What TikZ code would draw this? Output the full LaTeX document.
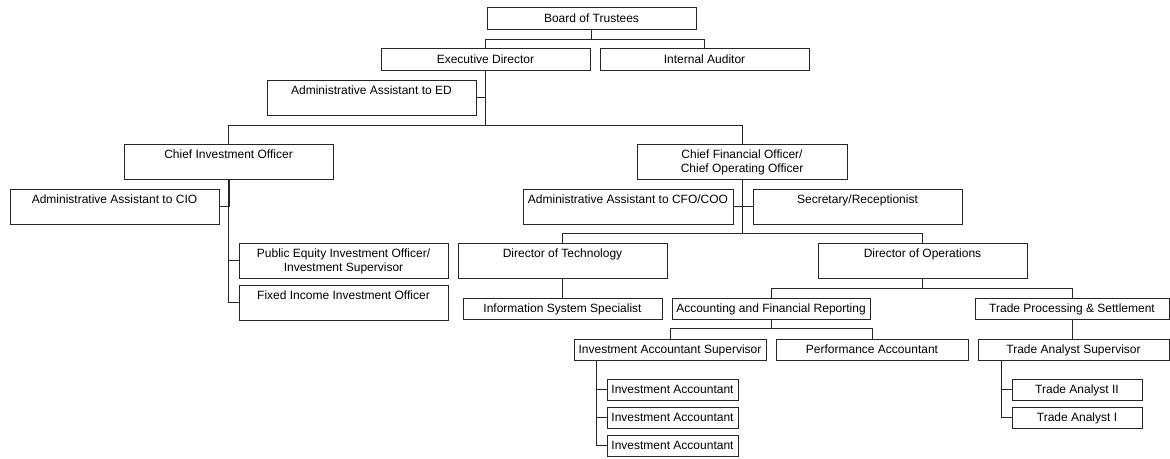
\documentclass[tikz,border=0pt]{standalone}
\usepackage{fontspec}
\setmainfont{Liberation Sans}
\newcommand\mys{\rule[-2.7pt]{0pt}{14pt}}
\tikzset{
  box/.style={draw=black!85, line width=1pt, inner sep=0pt, align=center,
    font=\fontsize{12}{14}\selectfont, text=black},
  sz/.style 2 args={minimum width=#1pt, minimum height=#2pt},
  conn/.style={draw=black!85, line width=1pt},
  thickconn/.style={draw=black!85, line width=2pt},
}
\begin{document}
\begin{tikzpicture}[x=1pt, y=-1pt]
\useasboundingbox (0,0) rectangle (1170,458);
% boxes
\node[box, sz={209}{22}] (bot) at (591.5,18) {\mys Board of Trustees};
\node[box, sz={209}{22}] (ed) at (485.5,59) {\mys Executive Director};
\node[box, sz={209}{22}] (ia) at (704.5,59) {\mys Internal Auditor};
\node[box, sz={209}{35}] (aaed) at (371.5,97.5) {Administrative Assistant to ED\mys\\\mys};
\node[box, sz={209}{35}] (cio) at (228.5,161.5) {Chief Investment Officer\mys\\\mys};
\node[box, sz={209}{35}] (aacio) at (114.5,206.5) {Administrative Assistant to CIO\mys\\\mys};
\node[box, sz={209}{35}] (pe) at (343.5,260.5) {Public Equity Investment Officer/\mys\\Investment Supervisor\mys};
\node[box, sz={209}{35}] (fi) at (343.5,302.5) {Fixed Income Investment Officer\mys\\\mys};
\node[box, sz={210}{35}] (cfo) at (742,161.5) {Chief Financial Officer/\mys\\Chief Operating Officer\mys};
\node[box, sz={210}{35}] (aacfo) at (628,206.5) {Administrative Assistant to CFO/COO\mys\\\mys};
\node[box, sz={209}{35}] (sec) at (857.5,206.5) {Secretary/Receptionist\mys\\\mys};
\node[box, sz={209}{35}] (dt) at (562.5,260.5) {Director of Technology\mys\\\mys};
\node[box, sz={209}{35}] (do) at (922.5,260.5) {Director of Operations\mys\\\mys};
\node[box, sz={199}{21}] (iss) at (562.5,308.5) {\mys Information System Specialist};
\node[box, sz={198}{21}] (afr) at (771,308.5) {\mys Accounting and Financial Reporting};
\node[box, sz={194}{21}] (tps) at (1072,308.5) {\mys Trade Processing \& Settlement};
\node[box, sz={192}{21}] (ias) at (670,349.5) {\mys Investment Accountant Supervisor};
\node[box, sz={192}{21}] (pa) at (872,349.5) {\mys Performance Accountant};
\node[box, sz={191}{21}] (tas) at (1073.5,349.5) {\mys Trade Analyst Supervisor};
\node[box, sz={131}{21}] (iaa) at (672.5,389.5) {\mys Investment Accountant};
\node[box, sz={131}{21}] (iab) at (672.5,417.5) {\mys Investment Accountant};
\node[box, sz={131}{21}] (iac) at (672.5,445.5) {\mys Investment Accountant};
\node[box, sz={130}{21}] (tab) at (1077,389.5) {\mys Trade Analyst II};
\node[box, sz={130}{21}] (taa) at (1077,417.5) {\mys Trade Analyst I};
% connectors
\coordinate (j1) at (591.5,39);
\draw[conn] (bot.south) -- (j1);
\draw[conn] (j1) -| (ed.north);
\draw[conn] (j1) -| (ia.north);
\coordinate (j2) at (485.5,125);
\draw[conn] (ed.south) |- (aaed.east);
\draw[conn] (ed.south) -- (j2);
\draw[conn] (j2) -| (cio.north);
\draw[conn] (j2) -| (cfo.north);
\draw[thickconn] (cio.south) -- (cio.south |- aacio.east);
\draw[conn] (cio.south) |- (aacio.east);
\draw[conn] (cio.south) |- (pe.west);
\draw[conn] (cio.south) |- (fi.west);
\coordinate (j3) at (742,233);
\draw[conn] (cfo.south) |- (aacfo.east);
\draw[conn] (cfo.south) |- (sec.west);
\draw[conn] (cfo.south) -- (j3);
\draw[conn] (j3) -| (dt.north);
\draw[conn] (j3) -| (do.north);
\draw[conn] (dt.south) -- (iss.north);
\coordinate (j4) at (922.5,288);
\draw[conn] (do.south) -- (j4);
\draw[conn] (j4) -| (afr.north);
\draw[conn] (j4) -| (tps.north);
\coordinate (j5) at (771,328);
\draw[conn] (afr.south) -- (j5);
\draw[conn] (j5) -| (ias.north);
\draw[conn] (j5) -| (pa.north);
\coordinate (j6) at ([xshift=23pt]ias.south west);
\draw[conn] (j6) |- (iaa.west);
\draw[conn] (j6) |- (iab.west);
\draw[conn] (j6) |- (iac.west);
\draw[conn] (tps.south) -- (tps.south |- tas.north);
\coordinate (j7) at ([xshift=24pt]tas.south west);
\draw[conn] (j7) |- (tab.west);
\draw[conn] (j7) |- (taa.west);
\end{tikzpicture}
\end{document}
